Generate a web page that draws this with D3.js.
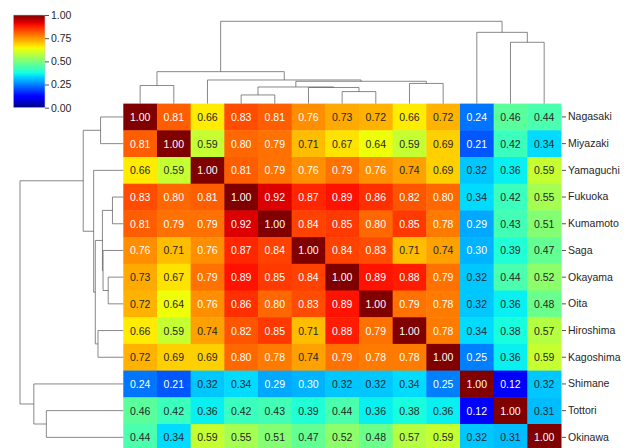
<!DOCTYPE html>
<html>
<head>
<meta charset="utf-8">
<script src="https://cdn.jsdelivr.net/npm/d3@7"></script>
<style>
  body { margin: 0; background: #fff; }
  text { font-family: "Liberation Sans", Arial, sans-serif; }
</style>
</head>
<body>
<div id="chart-area"></div>
<script>
// prefectures in clustered order
var names = ["Nagasaki", "Miyazaki", "Yamaguchi", "Fukuoka", "Kumamoto", "Saga",
  "Okayama", "Oita", "Hiroshima", "Kagoshima", "Shimane", "Tottori", "Okinawa"];

var corr = [
  [1.00, 0.81, 0.66, 0.83, 0.81, 0.76, 0.73, 0.72, 0.66, 0.72, 0.24, 0.46, 0.44],
  [0.81, 1.00, 0.59, 0.80, 0.79, 0.71, 0.67, 0.64, 0.59, 0.69, 0.21, 0.42, 0.34],
  [0.66, 0.59, 1.00, 0.81, 0.79, 0.76, 0.79, 0.76, 0.74, 0.69, 0.32, 0.36, 0.59],
  [0.83, 0.80, 0.81, 1.00, 0.92, 0.87, 0.89, 0.86, 0.82, 0.80, 0.34, 0.42, 0.55],
  [0.81, 0.79, 0.79, 0.92, 1.00, 0.84, 0.85, 0.80, 0.85, 0.78, 0.29, 0.43, 0.51],
  [0.76, 0.71, 0.76, 0.87, 0.84, 1.00, 0.84, 0.83, 0.71, 0.74, 0.30, 0.39, 0.47],
  [0.73, 0.67, 0.79, 0.89, 0.85, 0.84, 1.00, 0.89, 0.88, 0.79, 0.32, 0.44, 0.52],
  [0.72, 0.64, 0.76, 0.86, 0.80, 0.83, 0.89, 1.00, 0.79, 0.78, 0.32, 0.36, 0.48],
  [0.66, 0.59, 0.74, 0.82, 0.85, 0.71, 0.88, 0.79, 1.00, 0.78, 0.34, 0.38, 0.57],
  [0.72, 0.69, 0.69, 0.80, 0.78, 0.74, 0.79, 0.78, 0.78, 1.00, 0.25, 0.36, 0.59],
  [0.24, 0.21, 0.32, 0.34, 0.29, 0.30, 0.32, 0.32, 0.34, 0.25, 1.00, 0.12, 0.32],
  [0.46, 0.42, 0.36, 0.42, 0.43, 0.39, 0.44, 0.36, 0.38, 0.36, 0.12, 1.00, 0.31],
  [0.44, 0.34, 0.59, 0.55, 0.51, 0.47, 0.52, 0.48, 0.57, 0.59, 0.32, 0.31, 1.00]
];

// linkage: [childA, childB, height]; new cluster ids start at 13
var linkage = [
  [3, 4, 0.105],
  [6, 7, 0.146],
  [0, 1, 0.220],
  [8, 9, 0.245],
  [5, 14, 0.196],
  [13, 17, 0.202],
  [18, 16, 0.271],
  [2, 19, 0.287],
  [15, 20, 0.388],
  [11, 12, 0.745],
  [10, 22, 0.866],
  [21, 23, 1.000]
];

var cbarTicks = [0, 0.25, 0.5, 0.75, 1];

var W = 629, H = 448;
var hm = {left: 123.3, right: 561, top: 103.6, bottom: 450.7};

var svg = d3.select("#chart-area")
  .append("svg")
  .attr("width", W)
  .attr("height", H);

// matplotlib jet colormap from its segment data
var jetR = d3.scaleLinear().domain([0, 0.35, 0.66, 0.89, 1]).range([0, 0, 1, 1, 0.5]).clamp(true);
var jetG = d3.scaleLinear().domain([0, 0.125, 0.375, 0.64, 0.91, 1]).range([0, 0, 1, 1, 0, 0]).clamp(true);
var jetB = d3.scaleLinear().domain([0, 0.11, 0.34, 0.65, 1]).range([0.5, 1, 1, 0, 0]).clamp(true);
var norm = d3.scaleLinear().domain([0, 1]).range([0, 1]).clamp(true);
function jet(v) {
  var t = norm(v);
  return d3.rgb(jetR(t) * 255, jetG(t) * 255, jetB(t) * 255);
}
function textColor(c) {
  var lin = [c.r, c.g, c.b].map(function(u) {
    u = u / 255;
    return u <= 0.03928 ? u / 12.92 : Math.pow((u + 0.055) / 1.055, 2.4);
  });
  var lum = 0.2126 * lin[0] + 0.7152 * lin[1] + 0.0722 * lin[2];
  return lum > 0.408 ? "#262626" : "#ffffff";
}

var x = d3.scaleBand().domain(names).range([hm.left, hm.right]);
var y = d3.scaleBand().domain(names).range([hm.top, hm.bottom]);

// heatmap cells
var cells = [];
corr.forEach(function(row, i) {
  row.forEach(function(v, j) {
    cells.push({r: names[i], c: names[j], v: v});
  });
});

var g = svg.append("g").attr("class", "heatmap");
g.selectAll("rect")
  .data(cells)
  .enter()
  .append("rect")
  .attr("x", function(d) { return x(d.c); })
  .attr("y", function(d) { return y(d.r); })
  .attr("width", x.bandwidth() + 0.5)
  .attr("height", y.bandwidth() + 0.5)
  .attr("fill", function(d) { return jet(d.v); });

g.selectAll("text")
  .data(cells)
  .enter()
  .append("text")
  .attr("x", function(d) { return x(d.c) + x.bandwidth() / 2; })
  .attr("y", function(d) { return y(d.r) + y.bandwidth() / 2; })
  .attr("text-anchor", "middle")
  .attr("dominant-baseline", "central")
  .attr("font-size", "10.5px")
  .attr("fill", function(d) { return textColor(jet(d.v)); })
  .text(function(d) { return d.v.toFixed(2); });

// row labels on the right
var rowAxis = d3.axisRight(y).tickSize(4).tickPadding(2);
var ra = svg.append("g")
  .attr("class", "rowAxis")
  .attr("transform", "translate(" + (hm.right + 1) + ",0)")
  .call(rowAxis);
ra.select(".domain").remove();
ra.selectAll("line").attr("stroke", "#262626").attr("stroke-width", 0.8);
ra.selectAll("text")
  .attr("font-size", "10.5px")
  .attr("fill", "#262626")
  .style("font-family", "'Liberation Sans', Arial, sans-serif");

// dendrograms
function treeNodes() {
  var pos = names.map(function(n) { return n; });
  var nodes = names.map(function(n) { return {leaf: n, h: 0}; });
  linkage.forEach(function(l) {
    nodes.push({a: nodes[l[0]], b: nodes[l[1]], h: l[2]});
  });
  return nodes;
}
var nodes = treeNodes();
function leafPos(node, band) {
  if (node.leaf !== undefined) return band(node.leaf) + band.bandwidth() / 2;
  return (leafPos(node.a, band) + leafPos(node.b, band)) / 2;
}
var links = nodes.filter(function(n) { return n.leaf === undefined; });

var colH = d3.scaleLinear().domain([0, 1.05]).range([hm.top, hm.top - 82.3 * 1.05]);
var rowH = d3.scaleLinear().domain([0, 1.05]).range([hm.left, hm.left - 103.3 * 1.05]);

svg.append("g").attr("class", "colDendro")
  .selectAll("path")
  .data(links)
  .enter()
  .append("path")
  .attr("fill", "none")
  .attr("stroke", "#555")
  .attr("stroke-width", 0.7)
  .attr("d", function(d) {
    var xa = leafPos(d.a, x), xb = leafPos(d.b, x);
    return "M" + xa + "," + colH(d.a.h) + "V" + colH(d.h) + "H" + xb + "V" + colH(d.b.h);
  });

svg.append("g").attr("class", "rowDendro")
  .selectAll("path")
  .data(links)
  .enter()
  .append("path")
  .attr("fill", "none")
  .attr("stroke", "#555")
  .attr("stroke-width", 0.7)
  .attr("d", function(d) {
    var ya = leafPos(d.a, y), yb = leafPos(d.b, y);
    return "M" + rowH(d.a.h) + "," + ya + "H" + rowH(d.h) + "V" + yb + "H" + rowH(d.b.h);
  });

// colour bar
var cb = {x: 13.3, y: 15, w: 31.7, h: 92.7};
var grad = svg.append("defs").append("linearGradient")
  .attr("id", "jetGrad")
  .attr("x1", 0).attr("y1", 1).attr("x2", 0).attr("y2", 0);
grad.selectAll("stop")
  .data(d3.range(0, 1.0001, 0.02))
  .enter()
  .append("stop")
  .attr("offset", function(d) { return d; })
  .attr("stop-color", function(d) { return jet(d); });

svg.append("rect")
  .attr("x", cb.x).attr("y", cb.y)
  .attr("width", cb.w).attr("height", cb.h)
  .attr("fill", "url(#jetGrad)")
  .attr("stroke", "#c8c8d8")
  .attr("stroke-width", 0.6);

var cbScale = d3.scaleLinear().domain([0, 1]).range([cb.y + cb.h, cb.y]);
var cbAxis = d3.axisRight(cbScale).tickValues(cbarTicks).tickFormat(d3.format(".2f")).tickSize(4).tickPadding(2);
var ca = svg.append("g")
  .attr("transform", "translate(" + (cb.x + cb.w) + ",0)")
  .call(cbAxis);
ca.select(".domain").remove();
ca.selectAll("line").attr("stroke", "#262626").attr("stroke-width", 0.8);
ca.selectAll("text")
  .attr("font-size", "10.5px")
  .attr("fill", "#262626")
  .style("font-family", "'Liberation Sans', Arial, sans-serif");
</script>
</body>
</html>
